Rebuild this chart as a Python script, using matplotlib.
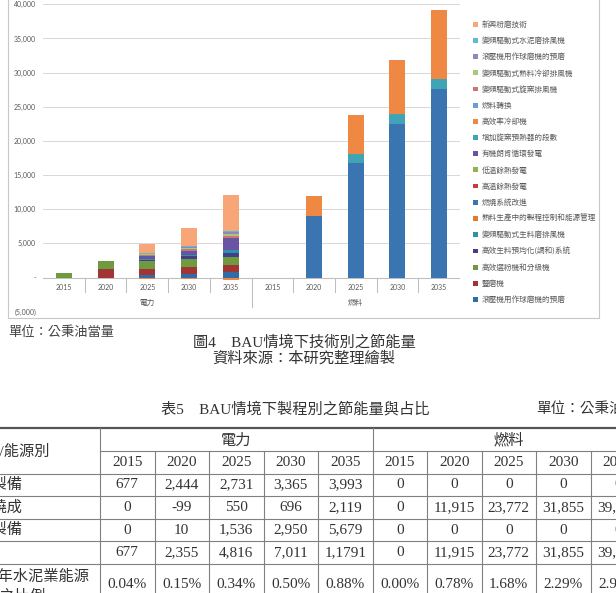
import matplotlib.pyplot as plt
from matplotlib.patches import Rectangle
import numpy as np

plt.rcParams['font.family'] = ['Lato', 'Noto Sans CJK TC', 'DejaVu Sans']
serif = ['Liberation Serif', 'Noto Sans CJK TC']

years = ['2015', '2020', '2025', '2030', '2035']
groups = ['電力', '燃料']

# 技術別節能量 (公秉油當量): 前5個=電力 2015-2035, 後5個=燃料 2015-2035
roller_raw     = [0, 0, 300, 500, 800, 0, 0, 0, 0, 0]
vertical_mill  = [0, 1230, 1000, 1050, 1100, 0, 0, 0, 0, 0]
separator      = [677, 1214, 1150, 1200, 1100, 0, 0, 0, 0, 0]
homogenize     = [0, 0, 180, 380, 600, 0, 0, 0, 0, 0]
vfd_rawmill    = [0, 0, 101, 235, 393, 0, 0, 0, 0, 0]
process_ctrl   = [0, 0, 0, 0, 0, 0, 0, 0, 0, 0]
combustion     = [0, 0, 0, 0, 0, 0, 8950, 16700, 22450, 27650]
whr_high       = [0, 0, 0, 0, 0, 0, 0, 0, 0, 0]
whr_low        = [0, 0, 0, 0, 0, 0, 0, 0, 0, 0]
orc            = [0, 0, 450, 500, 1800, 0, 0, 0, 0, 0]
preheater      = [0, 0, 0, 0, 0, 0, 0, 1450, 1450, 1350]
cooler         = [0, -99, -150, -250, -300, 0, 2965, 5622, 7955, 10100]
fuel_switch    = [0, 0, 0, 0, 0, 0, 0, 0, 0, 0]
vfd_kiln       = [0, 0, 150, 250, 350, 0, 0, 0, 0, 0]
vfd_cooler     = [0, 0, 100, 196, 269, 0, 0, 0, 0, 0]
roller_cement  = [0, 0, 80, 150, 250, 0, 0, 0, 0, 0]
vfd_cementmill = [0, 0, 56, 100, 129, 0, 0, 0, 0, 0]
new_grinding   = [0, 10, 1400, 2700, 5300, 0, 0, 0, 0, 0]

# 表5
table_years = years + years
row_raw    = ['677', '2,444', '2,731', '3,365', '3,993', '0', '0', '0', '0', '0']
row_kiln   = ['0', '-99', '550', '696', '2,119', '0', '11,915', '23,772', '31,855', '39,100']
row_cement = ['0', '10', '1,536', '2,950', '5,679', '0', '0', '0', '0', '0']
row_total  = ['677', '2,355', '4,816', '7,011', '1,1791', '0', '11,915', '23,772', '31,855', '39,100']
row_share  = ['0.04%', '0.15%', '0.34%', '0.50%', '0.88%', '0.00%', '0.78%', '1.68%', '2.29%', '2.92%']

series = [
    ('滾壓機用作球磨機的預磨', roller_raw, '#2F6CA8'),
    ('豎磨機', vertical_mill, '#A23533'),
    ('高效選粉機和分級機', separator, '#6F9A3E'),
    ('高效生料預均化(調和)系統', homogenize, '#433F8C'),
    ('變頻驅動式生料磨排風機', vfd_rawmill, '#2D93A6'),
    ('熟料生產中的製程控制和能源管理', process_ctrl, '#E17A2F'),
    ('燃燒系統改進', combustion, '#3A75B2'),
    ('高溫餘熱發電', whr_high, '#C0403C'),
    ('低溫餘熱發電', whr_low, '#8CB650'),
    ('有機朗肯循環發電', orc, '#6A53A4'),
    ('增加旋窯預熱器的段數', preheater, '#40A3B6'),
    ('高效率冷卻機', cooler, '#EE8843'),
    ('燃料轉換', fuel_switch, '#6B9CD3'),
    ('變頻驅動式旋窯排風機', vfd_kiln, '#CF7470'),
    ('變頻驅動式熟料冷卻排風機', vfd_cooler, '#A7C978'),
    ('滾壓機用作球磨機的預磨', roller_cement, '#9286C2'),
    ('變頻驅動式水泥磨排風機', vfd_cementmill, '#5DBCD2'),
    ('新興粉磨技術', new_grinding, '#F8A677'),
]

W, H = 616, 593
fig = plt.figure(figsize=(W / 100, H / 100), dpi=100)

# page layer (pixel coords)
page = fig.add_axes([0, 0, 1, 1])
page.set_xlim(0, W)
page.set_ylim(H, 0)
page.axis('off')
page.add_patch(Rectangle((8.3, -5), 590.7, 323.3, fill=False, ec='#C8C8C8', lw=0.8))

# chart
ax = fig.add_axes([43 / W, 1 - 311.7 / H, 417 / W, 307.4 / H])
ax.set_facecolor('none')
x = np.arange(10)
pos = np.zeros(10)
neg = np.zeros(10)
handles = []
for name, vals, col in series:
    v = np.array(vals, dtype=float)
    bottom = np.where(v >= 0, pos, neg)
    b = ax.bar(x, v, 0.385, bottom=bottom, color=col, label=name, zorder=3)
    handles.append(b)
    pos += np.clip(v, 0, None)
    neg += np.clip(v, None, 0)

ax.set_xlim(-0.5, 9.5)
ax.set_ylim(-5000, 40000)
ax.set_yticks(np.arange(-5000, 40001, 5000))
ax.set_yticklabels(['-' if t == 0 else (f'({-t:,})' if t < 0 else f'{t:,}')
                    for t in np.arange(-5000, 40001, 5000)])
ax.tick_params(axis='y', length=0, pad=5, labelsize=5, labelcolor='#595959')
ax.set_xticks([])
ax.grid(axis='y', color='#D9D9D9', lw=0.75)
ax.set_axisbelow(True)
for s in ax.spines.values():
    s.set_visible(False)
ax.axhline(0, color='#BFBFBF', lw=0.75, zorder=2)

for i, yr in enumerate(table_years):
    ax.text(i, -1420, yr, ha='center', va='center', fontsize=5, color='#595959')
for g, name in enumerate(groups):
    ax.text(2 + 5 * g, -3620, name, ha='center', va='center', fontsize=5.5, color='#595959')
for b in [0.5, 1.5, 2.5, 3.5, 5.5, 6.5, 7.5, 8.5]:
    ax.plot([b, b], [0, -2150], color='#BFBFBF', lw=0.75)
ax.plot([4.5, 4.5], [0, -4350], color='#BFBFBF', lw=0.75)

fig.legend(handles[::-1], [s[0] for s in series][::-1], loc='upper left',
           bbox_to_anchor=(473 / W, 1 - 21 / H), frameon=False,
           handlelength=0.6, handleheight=0.6, handletextpad=0.5, labelspacing=1.07,
           borderpad=0, borderaxespad=0, labelcolor='#595959',
           prop={'family': ['Noto Sans CJK TC'], 'size': 5.5})

# captions
page.text(8.5, 332, '單位：公秉油當量', fontsize=9.5, va='center', color='#444444',
          family=['Noto Sans CJK TC'])
page.text(304, 342, '圖4　BAU情境下技術別之節能量', fontsize=11, ha='center', va='center',
          color='#333333', family=serif)
page.text(304, 358, '資料來源：本研究整理繪製', fontsize=11, ha='center', va='center',
          color='#333333', family=serif)
page.text(161, 409, '表5　BAU情境下製程別之節能量與占比', fontsize=11, ha='left', va='center',
          color='#333333', family=serif)
page.text(536, 409, '單位：公秉油當量', fontsize=10.5, ha='left', va='center',
          color='#333333', family=serif)

# table
cols = [100, 154.5, 209, 263.5, 318, 372.5, 427, 481.5, 536, 590.5, 645]
rows = [428.3, 451, 474, 496, 518.5, 541, 563.5, 607]
lc = '#808080'
page.plot([0, W], [rows[0], rows[0]], color='#555555', lw=1.6)
page.plot([cols[0], W], [rows[1], rows[1]], color=lc, lw=0.8)
for r in rows[2:7]:
    page.plot([0, W], [r, r], color=lc, lw=0.8)
page.plot([cols[0], cols[0]], [rows[0], H], color=lc, lw=0.8)
page.plot([cols[5], cols[5]], [rows[0], H], color=lc, lw=0.8)
for c in cols[1:5] + cols[6:10]:
    page.plot([c, c], [rows[1], H], color=lc, lw=0.8)

tkw = dict(fontsize=11, va='center', color='#333333', family=serif)
page.text((cols[0] + cols[5]) / 2, 440.5, groups[0], ha='center', **tkw)
page.text((cols[5] + cols[10]) / 2, 440.5, groups[1], ha='center', **tkw)
page.text(50, 451.5, '製程/能源別', ha='right', **tkw)
labels = ['生料製備', '熟料燒成', '水泥製備', '合計']
data_rows = [table_years, row_raw, row_kiln, row_cement, row_total, row_share]
ycent = [462.5, 485, 507.5, 530, 552.3, 585]
for r, vals in enumerate(data_rows):
    for j, v in enumerate(vals):
        page.text((cols[j] + cols[j + 1]) / 2, ycent[r], v, ha='center', **tkw)
for lab, yc in zip(labels[:3], ycent[1:4]):
    page.text(22, yc, lab, ha='right', **tkw)
page.text(90, 577, '占當年水泥業能源', ha='right', **tkw)
page.text(46, 597, '消費之比例', ha='right', **tkw)

fig.savefig('out.png', dpi=100)
